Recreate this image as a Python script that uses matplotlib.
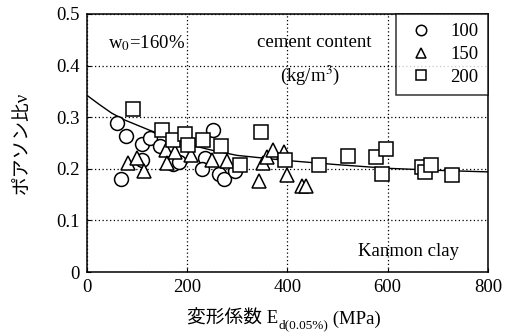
import matplotlib
matplotlib.use("Agg")
import matplotlib.pyplot as plt
from matplotlib.transforms import offset_copy

plt.rcParams['font.family'] = ['Liberation Serif', 'Noto Sans CJK JP']
plt.rcParams['mathtext.fontset'] = 'stix'

# cement content 100 kg/m3
e100 = [60, 78, 69, 111, 127, 147, 110, 172, 185, 236, 253, 230, 263, 273, 296]
v100 = [0.288, 0.264, 0.181, 0.248, 0.259, 0.245, 0.217, 0.210, 0.214, 0.220, 0.276, 0.199, 0.190, 0.181, 0.195]

# cement content 150 kg/m3
e150 = [83, 100, 115, 158, 160, 177, 208, 250, 280, 343, 352, 360, 371, 393, 399, 430, 438]
v150 = [0.212, 0.220, 0.196, 0.236, 0.212, 0.232, 0.227, 0.218, 0.215, 0.176, 0.211, 0.223,
        0.236, 0.233, 0.188, 0.167, 0.166]

# cement content 200 kg/m3
e200 = [93, 150, 173, 197, 203, 233, 267, 305, 347, 395, 463, 521, 577, 597, 588, 669, 675, 686, 729]
v200 = [0.316, 0.276, 0.255, 0.268, 0.246, 0.255, 0.245, 0.208, 0.271, 0.218, 0.207, 0.225,
        0.223, 0.239, 0.190, 0.204, 0.194, 0.207, 0.188]

# trend curve
e_fit = [0, 25, 50, 75, 100, 125, 150, 200, 250, 300, 400, 500, 600, 700, 800]
v_fit = [0.343, 0.325, 0.308, 0.295, 0.285, 0.275, 0.266, 0.248, 0.236, 0.226, 0.216,
         0.208, 0.201, 0.197, 0.194]

FS = 13.5

fig = plt.figure(figsize=(5.11, 3.34), dpi=100)
ax = fig.add_axes([0.1693, 0.1856, 0.7857, 0.7725])

ax.plot(e_fit, v_fit, color='black', lw=1.0, zorder=2)

mk = dict(mfc='white', mec='black', mew=1.1, ls='none', ms=10, zorder=3)
ax.plot(e100, v100, marker='o', label='100', **mk)
ax.plot(e150, v150, marker='^', label='150', **mk)
ax.plot(e200, v200, marker='s', label='200', **mk)

ax.set_xlim(0, 800)
ax.set_ylim(0, 0.5)
ax.set_xticks([0, 200, 400, 600, 800])
ax.set_yticks([0, 0.1, 0.2, 0.3, 0.4, 0.5])
ax.set_yticklabels(['0', '0.1', '0.2', '0.3', '0.4', '0.5'])
ax.tick_params(direction='in', length=3, labelsize=FS, pad=5)
ax.grid(True, ls=(0, (1, 2)), color='black', lw=0.9)
for s in ax.spines.values():
    s.set_linewidth(1.1)

ax.set_ylabel('ポアソン比ν', fontsize=FS, labelpad=18)

# x label in pieces: CJK text + subscript (mathtext would drop the CJK glyphs)
fig.canvas.draw()
r = fig.canvas.get_renderer()
parts = [('変形係数 E', FS, 0), ('d(0.05%)', 9.5, -4), (' (MPa)', FS, 0)]
base_y = 10 / 334
texts = []
for s, size, dy in parts:
    t = fig.text(0, base_y, s, fontsize=size, va='baseline', ha='left')
    texts.append((t, dy))
widths = [t.get_window_extent(r).width for t, _ in texts]
x = 284 - sum(widths) / 2
for (t, dy), w in zip(texts, widths):
    t.set_position((x / 511, base_y))
    t.set_transform(offset_copy(fig.transFigure, fig=fig, y=dy * 72 / 100, units='points'))
    x += w

ax.text(43, 0.444, 'w$_0$=160%', fontsize=FS, va='center', ha='left')
ax.text(454, 0.444, 'cement content', fontsize=FS, va='center', ha='center')
ax.text(446, 0.382, '(kg/m$^3$)', fontsize=FS, va='center', ha='center')
ax.text(742, 0.04, 'Kanmon clay', fontsize=FS, va='center', ha='right')

leg = ax.legend(loc='upper right', borderaxespad=0, fontsize=FS, markerscale=0.75,
                frameon=True, fancybox=False, edgecolor='black', handlelength=1.6,
                handletextpad=0.8, labelspacing=0.3, borderpad=0.5)
leg.get_frame().set_linewidth(1.1)

fig.savefig('out.png', dpi=100)
